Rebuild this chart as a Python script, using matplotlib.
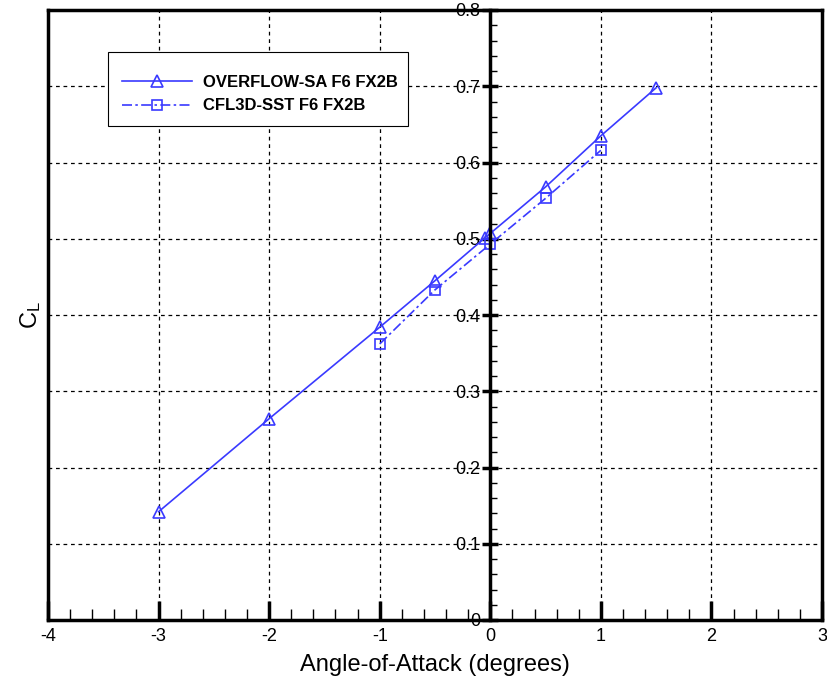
import matplotlib
matplotlib.use("Agg")
import matplotlib.pyplot as plt
from matplotlib.ticker import MultipleLocator
from matplotlib.patches import Rectangle

plt.rcParams['font.family'] = ['Liberation Sans', 'DejaVu Sans']

# Data
overflow_alpha = [-3, -2, -1, -0.5, -0.05, 0, 0.5, 1, 1.5]
overflow_cl = [0.142, 0.264, 0.384, 0.445, 0.501, 0.507, 0.568, 0.635, 0.698]
cfl3d_alpha = [-1, -0.5, 0, 0.5, 1]
cfl3d_cl = [0.362, 0.433, 0.493, 0.553, 0.616]

xticks = [-4, -3, -2, -1, 0, 1, 2, 3]
yticks = [0, 0.1, 0.2, 0.3, 0.4, 0.5, 0.6, 0.7, 0.8]

blue = '#3a3aff'

W, H = 827, 679
AX_L, AX_R, AX_T, AX_B = 48, 822, 10, 620
fig = plt.figure(figsize=(8.27, 6.79), dpi=100)
ax = fig.add_axes([AX_L/W, 1-AX_B/H, (AX_R-AX_L)/W, (AX_B-AX_T)/H])
ax.set_xlim(-4, 3)
ax.set_ylim(0, 0.8)


def axc(px, py):
    return ((px - AX_L) / (AX_R - AX_L), 1 - (py - AX_T) / (AX_B - AX_T))


# grid lines
for x in [-3, -2, -1, 1, 2]:
    ax.axvline(x, color='black', lw=0.9, ls=(0, (3, 3)), zorder=1)
for y in yticks[1:-1]:
    ax.axhline(y, color='black', lw=0.9, ls=(0, (3, 3)), zorder=1)

ax.plot(overflow_alpha, overflow_cl, color=blue, lw=1.2, marker='^', ms=8,
        mfc='none', mec=blue, mew=1.2, label='OVERFLOW-SA F6 FX2B', zorder=3)
ax.plot(cfl3d_alpha, cfl3d_cl, color=blue, lw=1.2, ls=(0, (6, 2, 1.5, 2)), marker='s', ms=7,
        mfc='none', mec=blue, mew=1.2, label='CFL3D-SST F6 FX2B', zorder=3)

# spines
ax.spines['left'].set_position(('data', 0))
for s in ['left', 'right', 'top', 'bottom']:
    ax.spines[s].set_linewidth(2.5)
    ax.spines[s].set_zorder(4)
ax.axvline(-4, color='black', lw=2.5, clip_on=False, zorder=4)

ax.set_xticks(xticks)
ax.set_xticklabels([str(v) for v in xticks])
ax.xaxis.set_minor_locator(MultipleLocator(0.2))
ax.set_yticks(yticks)
ax.set_yticklabels(['0' if v == 0 else f'{v:.1f}' for v in yticks])
ax.yaxis.set_minor_locator(MultipleLocator(0.02))

ax.tick_params(axis='x', which='major', direction='in', length=14, width=2.5, labelsize=13, pad=6)
ax.tick_params(axis='x', which='minor', direction='in', length=8, width=1)
ax.tick_params(axis='y', which='major', direction='inout', length=12, width=2.5, labelsize=13, pad=1)
ax.tick_params(axis='y', which='minor', direction='in', length=5, width=1)

ax.set_xlabel('Angle-of-Attack (degrees)', fontsize=17, labelpad=6)
ax.text(-4.16, 0.4, r'$\mathregular{C_L}$', rotation=90, fontsize=17, ha='center', va='center')

# legend frame drawn manually
x0, y0 = axc(108, 126)
x1, y1 = axc(408, 52)
rect = Rectangle((x0, y0), x1 - x0, y1 - y0, transform=ax.transAxes, facecolor='white',
                 edgecolor='black', lw=0.8, zorder=5)
ax.add_patch(rect)

leg = ax.legend(loc='upper left', bbox_to_anchor=axc(122, 75),
                frameon=False, prop={'weight': 'bold', 'size': 12}, handlelength=4.2,
                borderpad=0, labelspacing=0.5, handletextpad=0.65, borderaxespad=0)
leg.set_zorder(6)

fig.savefig('out.png', dpi=100)
